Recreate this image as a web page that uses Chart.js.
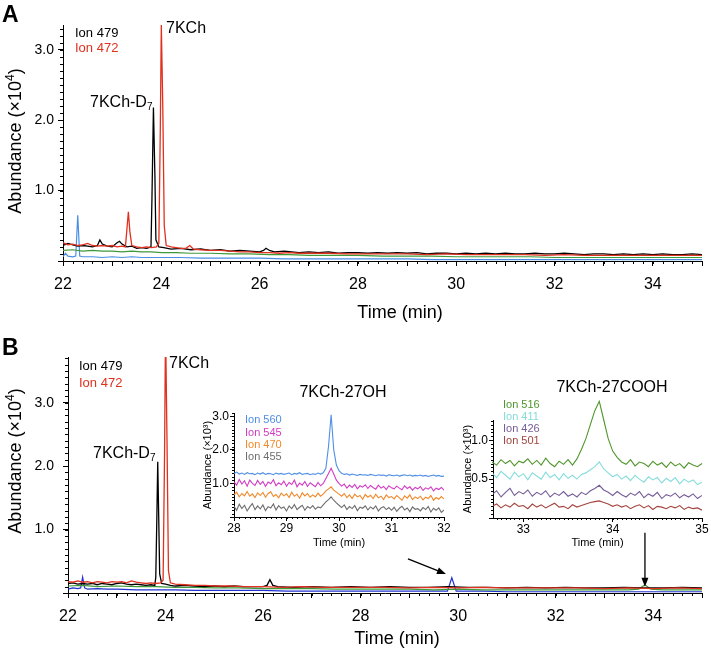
<!DOCTYPE html>
<html>
<head>
<meta charset="utf-8">
<script src="https://cdn.jsdelivr.net/npm/chart.js@4.4.0/dist/chart.umd.min.js"></script>
<style>
  body { margin: 0; background: #fff; }
  #wrap { position: relative; width: 711px; height: 655px; background: #fff; }
  #wrap canvas { position: absolute; }
</style>
</head>
<body>
<div id="wrap">
  <canvas id="chartA" width="711" height="330" style="left:0;top:0"></canvas>
  <canvas id="chartB" width="711" height="325" style="left:0;top:330px"></canvas>
  <canvas id="inset1" width="254" height="160" style="left:198px;top:395px"></canvas>
  <canvas id="inset2" width="253" height="160" style="left:458px;top:395px"></canvas>
</div>
<script>
const FF = '"Liberation Sans", Arial, Helvetica, sans-serif';
Chart.defaults.font.family = FF;
Chart.defaults.color = '#000';

// ---- panel A : [time (min), abundance x10^4]
const ion479A = [[22.0,0.22],[22.1,0.25],[22.2,0.23],[22.3,0.21],[22.4,0.22],[22.5,0.21],[22.6,0.20],[22.7,0.22],[22.75,0.30],[22.8,0.24],[22.9,0.21],[23.0,0.20],[23.1,0.26],[23.15,0.28],[23.2,0.24],[23.3,0.20],[23.4,0.21],[23.5,0.18],[23.6,0.19],[23.7,0.18],[23.79,0.20],[23.81,0.9],[23.84,2.18],[23.87,1.2],[23.89,0.3],[23.95,0.2],[24.05,0.19],[24.2,0.17],[24.4,0.18],[24.6,0.16],[24.8,0.17],[25.0,0.15],[25.2,0.16],[25.4,0.14],[25.6,0.15],[25.8,0.14],[26.0,0.13],[26.08,0.15],[26.13,0.18],[26.2,0.15],[26.3,0.13],[26.5,0.14],[26.8,0.12],[27.0,0.13],[27.2,0.12],[27.4,0.13],[27.6,0.11],[27.8,0.12],[28.0,0.12],[28.2,0.11],[28.4,0.12],[28.6,0.11],[28.8,0.12],[29.0,0.11],[29.2,0.12],[29.4,0.10],[29.6,0.11],[29.8,0.11],[30.0,0.10],[30.2,0.11],[30.4,0.10],[30.6,0.11],[30.8,0.10],[31.0,0.11],[31.2,0.10],[31.4,0.10],[31.6,0.11],[31.8,0.10],[32.0,0.10],[32.2,0.11],[32.4,0.10],[32.6,0.09],[32.8,0.10],[33.0,0.10],[33.2,0.09],[33.4,0.10],[33.6,0.09],[33.8,0.10],[34.0,0.09],[34.2,0.10],[34.4,0.09],[34.6,0.09],[34.8,0.10],[35.0,0.09]];
const ion472A = [[22.0,0.26],[22.1,0.23],[22.2,0.24],[22.3,0.22],[22.4,0.23],[22.5,0.25],[22.6,0.22],[22.7,0.21],[22.8,0.22],[22.9,0.21],[23.0,0.22],[23.1,0.20],[23.2,0.21],[23.27,0.20],[23.3,0.45],[23.33,0.70],[23.36,0.42],[23.4,0.22],[23.5,0.20],[23.6,0.19],[23.7,0.20],[23.8,0.19],[23.9,0.20],[23.95,0.25],[23.98,1.9],[24.0,3.35],[24.03,2.2],[24.06,0.5],[24.1,0.22],[24.2,0.20],[24.3,0.19],[24.4,0.18],[24.5,0.18],[24.58,0.22],[24.65,0.17],[24.8,0.16],[25.0,0.15],[25.2,0.15],[25.4,0.14],[25.6,0.13],[25.8,0.13],[26.0,0.12],[26.2,0.12],[26.4,0.11],[26.6,0.12],[26.8,0.11],[27.0,0.11],[27.4,0.11],[27.8,0.10],[28.2,0.10],[28.6,0.10],[29.0,0.10],[29.4,0.09],[29.8,0.10],[30.2,0.09],[30.6,0.09],[31.0,0.09],[31.4,0.09],[31.8,0.08],[32.2,0.09],[32.6,0.08],[33.0,0.08],[33.4,0.08],[33.8,0.08],[34.2,0.08],[34.6,0.08],[35.0,0.08]];
const greenA = [[22.0,0.15],[22.2,0.16],[22.4,0.14],[22.6,0.15],[22.8,0.14],[23.0,0.14],[23.2,0.13],[23.4,0.14],[23.6,0.13],[23.8,0.13],[24.0,0.12],[24.3,0.12],[24.6,0.11],[25.0,0.11],[25.4,0.10],[25.8,0.10],[26.2,0.09],[26.6,0.09],[27.0,0.08],[27.5,0.08],[28.0,0.08],[28.5,0.07],[29.0,0.07],[29.5,0.07],[30.0,0.06],[30.5,0.06],[31.0,0.06],[31.5,0.06],[32.0,0.05],[32.5,0.05],[33.0,0.05],[33.5,0.05],[34.0,0.05],[34.5,0.05],[35.0,0.05]];
const blueA = [[22.0,0.06],[22.05,0.11],[22.1,0.07],[22.2,0.06],[22.26,0.07],[22.3,0.65],[22.34,0.07],[22.4,0.06],[22.6,0.06],[22.8,0.05],[23.0,0.06],[23.2,0.05],[23.4,0.06],[23.6,0.05],[23.8,0.05],[24.0,0.05],[24.4,0.05],[24.8,0.04],[25.2,0.04],[25.6,0.04],[26.0,0.04],[26.5,0.03],[27.0,0.03],[27.5,0.03],[28.0,0.03],[28.5,0.03],[29.0,0.03],[29.5,0.02],[30.0,0.02],[31.0,0.02],[32.0,0.02],[33.0,0.02],[34.0,0.02],[35.0,0.02]];

// ---- panel B
const ion479B = [[22.0,0.15],[22.1,0.16],[22.2,0.14],[22.3,0.15],[22.4,0.14],[22.5,0.15],[22.6,0.13],[22.7,0.15],[22.8,0.14],[22.9,0.13],[23.0,0.15],[23.1,0.16],[23.2,0.14],[23.3,0.13],[23.4,0.14],[23.5,0.13],[23.6,0.12],[23.7,0.13],[23.78,0.12],[23.8,0.25],[23.82,1.1],[23.84,2.07],[23.86,1.2],[23.88,0.3],[23.92,0.15],[24.0,0.14],[24.1,0.12],[24.2,0.11],[24.4,0.12],[24.6,0.11],[24.8,0.10],[25.0,0.11],[25.2,0.10],[25.4,0.11],[25.6,0.10],[25.8,0.10],[26.0,0.10],[26.08,0.12],[26.14,0.21],[26.2,0.12],[26.3,0.10],[26.6,0.09],[27.0,0.10],[27.4,0.09],[27.8,0.10],[28.2,0.09],[28.6,0.10],[29.0,0.09],[29.4,0.09],[29.8,0.10],[30.2,0.09],[30.6,0.09],[31.0,0.08],[31.4,0.09],[31.8,0.08],[32.2,0.09],[32.6,0.08],[33.0,0.08],[33.4,0.09],[33.8,0.08],[34.2,0.08],[34.6,0.09],[35.0,0.08]];
const ion472B = [[22.0,0.18],[22.1,0.17],[22.2,0.19],[22.3,0.17],[22.4,0.18],[22.5,0.16],[22.6,0.18],[22.7,0.17],[22.8,0.16],[22.9,0.18],[23.0,0.17],[23.1,0.18],[23.2,0.16],[23.3,0.19],[23.4,0.17],[23.5,0.16],[23.6,0.15],[23.7,0.16],[23.8,0.15],[23.9,0.16],[23.95,0.2],[23.98,2.2],[24.0,4.2],[24.03,2.4],[24.06,0.35],[24.1,0.16],[24.2,0.14],[24.4,0.13],[24.6,0.12],[24.8,0.12],[25.0,0.11],[25.3,0.11],[25.6,0.10],[26.0,0.10],[26.4,0.09],[26.8,0.10],[27.2,0.09],[27.6,0.09],[28.0,0.09],[28.5,0.09],[29.0,0.08],[29.5,0.09],[30.0,0.08],[30.5,0.09],[31.0,0.08],[31.5,0.08],[32.0,0.08],[32.5,0.08],[33.0,0.07],[33.5,0.08],[34.0,0.07],[34.5,0.08],[35.0,0.07]];
const greenB = [[22.0,0.11],[22.3,0.12],[22.6,0.10],[23.0,0.11],[23.4,0.10],[23.8,0.10],[24.2,0.09],[24.6,0.09],[25.0,0.08],[25.5,0.08],[26.0,0.07],[26.5,0.07],[27.0,0.07],[27.5,0.06],[28.0,0.06],[28.5,0.06],[29.0,0.06],[29.5,0.05],[30.0,0.06],[30.5,0.05],[31.0,0.05],[31.5,0.05],[32.0,0.05],[32.5,0.05],[33.0,0.05],[33.5,0.05],[33.7,0.06],[33.83,0.13],[33.95,0.06],[34.2,0.05],[34.6,0.05],[35.0,0.05]];
const blueB = [[22.0,0.06],[22.1,0.08],[22.2,0.07],[22.26,0.08],[22.3,0.25],[22.34,0.08],[22.4,0.06],[22.6,0.07],[22.8,0.06],[23.0,0.06],[23.4,0.05],[23.8,0.05],[24.2,0.05],[24.6,0.04],[25.0,0.04],[25.5,0.04],[26.0,0.04],[26.5,0.03],[27.0,0.03],[27.5,0.03],[28.0,0.03],[28.5,0.03],[29.0,0.03],[29.5,0.03],[29.78,0.03],[29.87,0.24],[29.96,0.03],[30.5,0.03],[31.0,0.02],[31.5,0.02],[32.0,0.02],[32.5,0.02],[33.0,0.02],[33.5,0.02],[34.0,0.02],[34.5,0.02],[35.0,0.02]];

// ---- inset 7KCh-27OH (abundance x10^3)
const time27OH = [28.00,28.05,28.10,28.15,28.20,28.25,28.30,28.35,28.40,28.45,28.50,28.55,28.60,28.65,28.70,28.75,28.80,28.85,28.90,28.95,29.00,29.05,29.10,29.15,29.20,29.25,29.30,29.35,29.40,29.45,29.50,29.55,29.60,29.65,29.70,29.75,29.80,29.85,29.90,29.95,30.00,30.05,30.10,30.15,30.20,30.25,30.30,30.35,30.40,30.45,30.50,30.55,30.60,30.65,30.70,30.75,30.80,30.85,30.90,30.95,31.00,31.05,31.10,31.15,31.20,31.25,31.30,31.35,31.40,31.45,31.50,31.55,31.60,31.65,31.70,31.75,31.80,31.85,31.90,31.95,32.00];
const ion560 = [1.30,1.34,1.28,1.31,1.27,1.32,1.29,1.30,1.26,1.31, 1.28,1.32,1.27,1.30,1.29,1.26,1.31,1.28,1.30,1.27, 1.29,1.31,1.26,1.30,1.28,1.32,1.27,1.29,1.30,1.26, 1.29,1.27,1.31,1.28,1.32,1.45, 2.10,3.05,2.00,1.55,1.38, 1.30,1.27,1.29,1.25,1.28,1.26,1.24,1.27,1.25,1.26, 1.24,1.27,1.25,1.23,1.26,1.24,1.25,1.22,1.26,1.24, 1.23,1.25,1.22,1.24,1.26,1.23,1.25,1.22,1.24,1.23, 1.25,1.22,1.24,1.21,1.23,1.25,1.22,1.24,1.21,1.22];
const ion545 = [1.05,0.95,1.12,0.98,1.08,0.92,1.10,1.00,0.94,1.09, 0.97,1.06,0.91,1.04,0.99,1.11,0.93,1.02,0.96,1.07, 0.92,1.03,0.97,1.10,0.90,1.01,0.95,1.06,0.91,1.02, 0.96,0.90,1.03,0.93,1.00,1.15, 1.30,1.45,1.28,1.10,1.00, 0.92,0.98,0.86,0.95,0.88,0.97,0.84,0.93,0.89,0.96, 0.85,0.94,0.88,0.83,0.95,0.86,0.91,0.82,0.93,0.87, 0.84,0.92,0.86,0.81,0.93,0.85,0.90,0.80,0.88,0.84, 0.91,0.79,0.87,0.83,0.90,0.78,0.86,0.82,0.88,0.80];
const ion470 = [0.66,0.74,0.60,0.70,0.63,0.76,0.62,0.69,0.58,0.72, 0.64,0.73,0.59,0.70,0.75,0.61,0.67,0.57,0.71,0.63, 0.69,0.58,0.74,0.62,0.68,0.56,0.72,0.63,0.70,0.59, 0.66,0.60,0.71,0.62,0.68,0.78, 0.84,0.90,0.80,0.74,0.68, 0.62,0.70,0.58,0.66,0.55,0.68,0.60,0.64,0.53,0.67, 0.59,0.65,0.55,0.68,0.57,0.62,0.52,0.66,0.58,0.61, 0.54,0.64,0.57,0.50,0.63,0.56,0.66,0.52,0.60,0.55, 0.62,0.51,0.59,0.55,0.64,0.50,0.58,0.53,0.61,0.54];
const ion455 = [0.32,0.20,0.38,0.25,0.35,0.18,0.30,0.40,0.22,0.33, 0.24,0.36,0.19,0.31,0.27,0.39,0.21,0.34,0.26,0.30, 0.18,0.33,0.25,0.37,0.22,0.29,0.35,0.20,0.31,0.26, 0.34,0.23,0.30,0.27,0.36,0.45, 0.52,0.60,0.50,0.42,0.35, 0.28,0.36,0.22,0.31,0.25,0.34,0.19,0.29,0.26,0.33, 0.21,0.30,0.24,0.33,0.18,0.27,0.31,0.22,0.28,0.20, 0.29,0.17,0.26,0.32,0.21,0.27,0.16,0.30,0.23,0.25, 0.18,0.28,0.22,0.31,0.15,0.26,0.20,0.27,0.14,0.21];

// ---- inset 7KCh-27COOH (abundance x10^3)
const timeCOOH = [32.65,32.70,32.75,32.80,32.85,32.90,32.95,33.00,33.05,33.10,33.15,33.20,33.25,33.30,33.35,33.40,33.45,33.50,33.55,33.60,33.65,33.70,33.75,33.80,33.85,33.90,33.95,34.00,34.05,34.10,34.15,34.20,34.25,34.30,34.35,34.40,34.45,34.50,34.55,34.60,34.65,34.70,34.75,34.80,34.85,34.90,34.95,35.00];
const ion516 = [0.72,0.68,0.75,0.70,0.74,0.67,0.73,0.71,0.76,0.69, 0.74,0.68,0.77,0.70,0.66,0.73,0.69,0.75,0.68,0.76, 0.88,1.02,1.20,1.38,1.50,1.26,1.02,0.86,0.78,0.72, 0.69,0.75,0.67,0.72,0.70,0.66,0.73,0.68,0.71,0.65, 0.72,0.67,0.70,0.64,0.71,0.68,0.66,0.70];
const ion411 = [0.58,0.52,0.60,0.55,0.50,0.59,0.53,0.57,0.49,0.58, 0.54,0.50,0.59,0.52,0.56,0.49,0.57,0.51,0.55,0.50, 0.56,0.58,0.62,0.66,0.72,0.63,0.58,0.53,0.56,0.50, 0.54,0.48,0.55,0.50,0.46,0.53,0.49,0.52,0.45,0.51, 0.47,0.52,0.44,0.50,0.46,0.49,0.43,0.46];
const ion426 = [0.30,0.35,0.27,0.33,0.38,0.29,0.34,0.31,0.36,0.28, 0.33,0.30,0.35,0.27,0.32,0.29,0.34,0.28,0.31,0.27, 0.33,0.30,0.35,0.38,0.42,0.36,0.33,0.29,0.34,0.30, 0.27,0.32,0.29,0.34,0.26,0.31,0.28,0.33,0.25,0.30, 0.28,0.32,0.26,0.30,0.27,0.31,0.25,0.29];
const ion501 = [0.15,0.18,0.13,0.17,0.14,0.19,0.15,0.16,0.12,0.18, 0.14,0.17,0.13,0.16,0.19,0.14,0.15,0.12,0.17,0.14, 0.16,0.18,0.20,0.21,0.22,0.20,0.18,0.15,0.17,0.14, 0.16,0.12,0.15,0.17,0.13,0.16,0.11,0.15,0.14,0.12, 0.15,0.13,0.16,0.11,0.14,0.12,0.13,0.10];

const xy = arr => arr.map(p => ({ x: p[0], y: p[1] }));

// small outward minor ticks on both axes
function minorTicks(xStep, yStep, len) {
  return {
    id: 'minorTicks',
    afterDraw(chart) {
      const { ctx, chartArea: ca, scales: { x, y } } = chart;
      ctx.save();
      ctx.strokeStyle = '#000';
      ctx.lineWidth = 1;
      ctx.beginPath();
      const x0 = Math.ceil(x.min / xStep - 1e-6);
      for (let i = x0; i * xStep <= x.max + 1e-6; i++) {
        const px = Math.round(x.getPixelForValue(i * xStep)) + 0.5;
        ctx.moveTo(px, ca.bottom); ctx.lineTo(px, ca.bottom + len);
      }
      for (let i = 0; i * yStep <= y.max + 1e-6; i++) {
        const py = Math.round(y.getPixelForValue(i * yStep)) + 0.5;
        ctx.moveTo(ca.left, py); ctx.lineTo(ca.left - len, py);
      }
      ctx.stroke();
      ctx.restore();
    }
  };
}

function drawText(ctx, t) {
  const big = (t.bold ? 'bold ' : '') + t.size + 'px ' + FF;
  const small = Math.round(t.size * 0.65) + 'px ' + FF;
  ctx.fillStyle = t.color || '#000';
  ctx.textAlign = 'left';
  ctx.textBaseline = 'alphabetic';
  ctx.font = big;
  const w1 = ctx.measureText(t.text).width;
  const w3 = t.tail ? ctx.measureText(t.tail).width : 0;
  ctx.font = small;
  const w2 = t.small ? ctx.measureText(t.small).width : 0;
  const total = w1 + w2 + w3;
  ctx.save();
  ctx.translate(t.x, t.y);
  if (t.rotate) ctx.rotate(-Math.PI / 2);
  const x0 = t.align === 'center' ? -total / 2 : 0;
  ctx.font = big;
  ctx.fillText(t.text, x0, 0);
  if (t.tail) ctx.fillText(t.tail, x0 + w1 + w2, 0);
  if (t.small) {
    ctx.font = small;
    ctx.fillText(t.small, x0 + w1, t.sup ? -t.size * 0.4 : t.size * 0.2);
  }
  ctx.restore();
}

function notes(items, extra) {
  return {
    id: 'notes',
    afterDraw(chart) {
      const ctx = chart.ctx;
      ctx.save();
      items.forEach(t => drawText(ctx, t));
      if (extra) extra(chart);
      ctx.restore();
    }
  };
}

function arrow(ctx, x0, y0, x1, y1) {
  const a = Math.atan2(y1 - y0, x1 - x0), h = 9, w = 3.5;
  ctx.strokeStyle = '#000';
  ctx.fillStyle = '#000';
  ctx.lineWidth = 1.3;
  ctx.beginPath();
  ctx.moveTo(x0, y0);
  ctx.lineTo(x1 - h * 0.7 * Math.cos(a), y1 - h * 0.7 * Math.sin(a));
  ctx.stroke();
  ctx.beginPath();
  ctx.moveTo(x1, y1);
  ctx.lineTo(x1 - h * Math.cos(a) + w * Math.sin(a), y1 - h * Math.sin(a) - w * Math.cos(a));
  ctx.lineTo(x1 - h * Math.cos(a) - w * Math.sin(a), y1 - h * Math.sin(a) + w * Math.cos(a));
  ctx.closePath();
  ctx.fill();
}

function line(data, color, width) {
  return { data, borderColor: color, backgroundColor: color, borderWidth: width, pointRadius: 0, tension: 0, fill: false };
}

function axisStyle(extra) {
  return Object.assign({
    grid: { drawOnChartArea: false, tickLength: 5, tickColor: '#000', tickWidth: 1 },
    border: { color: '#000', width: 1 }
  }, extra);
}

function mainOptions(cfg) {
  return {
    responsive: false,
    animation: false,
    layout: { padding: { top: cfg.top, right: 5, left: 0, bottom: 0 } },
    plugins: { legend: { display: false }, tooltip: { enabled: false } },
    scales: {
      x: axisStyle({
        type: 'linear', min: 22, max: 35,
        afterFit: s => { s.height = cfg.xh; },
        ticks: { stepSize: 1, autoSkip: false, maxRotation: 0, padding: 9, color: '#000', font: { size: 16 },
          callback: v => (Math.round(v) % 2 === 0 ? String(v) : '') }
      }),
      y: axisStyle({
        min: 0, max: cfg.ymax,
        afterFit: s => { s.width = cfg.yw; },
        ticks: { stepSize: 1, includeBounds: false, padding: cfg.ypad, color: '#000', font: { size: 14 },
          callback: v => (v === 0 ? '' : v.toFixed(1)) }
      })
    }
  };
}

// ---------- Panel A
new Chart(document.getElementById('chartA'), {
  type: 'line',
  data: {
    datasets: [
      line(xy(ion472A), '#e0301e', 1.3),
      line(xy(ion479A), '#000000', 1.3),
      line(xy(greenA), '#3f9a3a', 1.2),
      line(xy(blueA), '#4a8ee6', 1.2)
    ]
  },
  options: mainOptions({ top: 25, xh: 69, yw: 63, ymax: 3.35, ypad: 4 }),
  plugins: [minorTicks(0.2, 0.1, 3), notes([
    { text: 'A', x: 2, y: 22, size: 23, bold: true },
    { text: 'Ion 479', x: 75, y: 37, size: 13 },
    { text: 'Ion 472', x: 75, y: 52, size: 13, color: '#e0301e' },
    { text: '7KCh', x: 166, y: 33, size: 16 },
    { text: '7KCh-D', small: '7', x: 90, y: 107, size: 16 },
    { text: 'Time (min)', x: 400, y: 318, size: 18, align: 'center' },
    { text: 'Abundance (×10', small: '4', sup: true, tail: ')', x: 21, y: 141, size: 18, align: 'center', rotate: true }
  ])]
});

// ---------- Panel B
new Chart(document.getElementById('chartB'), {
  type: 'line',
  data: {
    datasets: [
      line(xy(ion472B), '#e0301e', 1.3),
      line(xy(ion479B), '#000000', 1.3),
      line(xy(greenB), '#3f9a3a', 1.2),
      line(xy(blueB), '#2233d0', 1.2)
    ]
  },
  options: mainOptions({ top: 27, xh: 62, yw: 68, ymax: 3.72, ypad: 9 }),
  plugins: [minorTicks(0.2, 0.1, 3), notes([
    { text: 'B', x: 2, y: 25, size: 23, bold: true },
    { text: 'Ion 479', x: 79, y: 40, size: 13 },
    { text: 'Ion 472', x: 79, y: 57, size: 13, color: '#e0301e' },
    { text: '7KCh', x: 169, y: 38, size: 16 },
    { text: '7KCh-D', small: '7', x: 93, y: 128, size: 16 },
    { text: '7KCh-27OH', x: 343, y: 67, size: 16, align: 'center' },
    { text: '7KCh-27COOH', x: 612, y: 62, size: 16, align: 'center' },
    { text: 'Time (min)', x: 397, y: 314, size: 18, align: 'center' },
    { text: 'Abundance (×10', small: '4', sup: true, tail: ')', x: 21, y: 131, size: 18, align: 'center', rotate: true }
  ], chart => {
    const { x, y } = chart.scales;
    const t1x = x.getPixelForValue(29.75), t1y = y.getPixelForValue(0.3);
    arrow(chart.ctx, t1x - 38, t1y - 15, t1x, t1y);
    const t2x = x.getPixelForValue(33.83), t2y = y.getPixelForValue(0.1);
    arrow(chart.ctx, t2x, t2y - 54, t2x, t2y);
  })]
});

// ---------- insets
function insetOptions(cfg) {
  return {
    responsive: false,
    animation: false,
    layout: { padding: { top: cfg.top, right: cfg.right, left: 0, bottom: 0 } },
    plugins: { legend: { display: false }, tooltip: { enabled: false } },
    scales: {
      x: {
        type: 'linear', min: cfg.xmin, max: cfg.xmax,
        afterFit: s => { s.height = cfg.xh; },
        grid: { drawOnChartArea: false, tickLength: 4, tickColor: '#000' },
        border: { color: '#000', width: 1 },
        ticks: { stepSize: 1, includeBounds: false, maxRotation: 0, padding: 0, color: '#000', font: { size: 12 } },
        title: { display: true, text: 'Time (min)', color: '#000', font: { size: 11 }, padding: { top: 0, bottom: 5 } }
      },
      y: {
        min: 0, max: cfg.ymax,
        afterFit: s => { s.width = cfg.yw; },
        grid: { drawOnChartArea: false, tickLength: 4, tickColor: '#000' },
        border: { color: '#000', width: 1 },
        ticks: { stepSize: cfg.ystep, includeBounds: false, padding: 1, color: '#000', font: { size: 12 },
          callback: v => (v === 0 ? '' : v.toFixed(1)) },
        title: { display: true, text: 'Abundance (×10³)', color: '#000', font: { size: 11 }, padding: { top: 3, bottom: 0 } }
      }
    }
  };
}

new Chart(document.getElementById('inset1'), {
  type: 'line',
  data: {
    labels: time27OH,
    datasets: [
      line(ion560, '#4f8fe6', 1.1),
      line(ion545, '#d23cc4', 1.1),
      line(ion470, '#f0892a', 1.1),
      line(ion455, '#6e6e6e', 1.1)
    ]
  },
  options: insetOptions({ top: 18, right: 8, xmin: 28, xmax: 32, xh: 38, yw: 36, ymax: 3.1, ystep: 1 }),
  plugins: [minorTicks(0.1, 0.1, 2), notes([
    { text: 'Ion 560', x: 47, y: 28, size: 11, color: '#4f8fe6' },
    { text: 'Ion 545', x: 47, y: 41, size: 11, color: '#d23cc4' },
    { text: 'Ion 470', x: 47, y: 53, size: 11, color: '#f0892a' },
    { text: 'Ion 455', x: 47, y: 65, size: 11, color: '#6e6e6e' }
  ])]
});

new Chart(document.getElementById('inset2'), {
  type: 'line',
  data: {
    labels: timeCOOH,
    datasets: [
      Object.assign(line(ion516, '#4f962c', 1.1), { clip: false }),
      line(ion411, '#86dcdc', 1.1),
      line(ion426, '#765c98', 1.1),
      line(ion501, '#a4443e', 1.1)
    ]
  },
  options: insetOptions({ top: 25, right: 9, xmin: 32.66, xmax: 35, xh: 37, yw: 35, ymax: 1.26, ystep: 0.5 }),
  plugins: [minorTicks(0.05, 0.05, 2), notes([
    { text: 'Ion 516', x: 45, y: 13, size: 11, color: '#4f962c' },
    { text: 'Ion 411', x: 45, y: 25, size: 11, color: '#86dcdc' },
    { text: 'Ion 426', x: 45, y: 37, size: 11, color: '#765c98' },
    { text: 'Ion 501', x: 45, y: 49, size: 11, color: '#a4443e' }
  ])]
});
</script>
</body>
</html>
